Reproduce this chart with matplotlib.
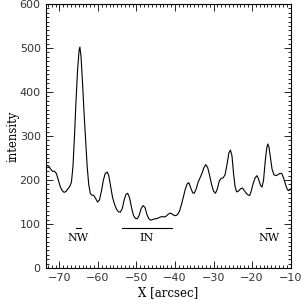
import matplotlib
matplotlib.use("Agg")
import matplotlib.pyplot as plt
from matplotlib.ticker import MultipleLocator

x_arcsec = [-73.6, -73.2, -72.8, -72.3, -71.8, -71.3, -70.8, -70.3, -69.8, -69.3,
            -68.8, -68.3, -67.8, -67.3, -66.9, -66.5, -66.1, -65.7, -65.3, -64.9,
            -64.7, -64.4, -64.0, -63.6, -63.2, -62.8, -62.4, -62.0, -61.6, -61.1,
            -60.6, -60.1, -59.6, -59.1, -58.6, -58.1, -57.6, -57.2, -56.7, -56.2,
            -55.7, -55.2, -54.7, -54.2, -53.7, -53.2, -52.7, -52.3, -51.8, -51.3,
            -50.8, -50.3, -49.8, -49.3, -48.8, -48.3, -47.8, -47.3, -46.8, -46.3,
            -45.8, -45.3, -44.8, -44.3, -43.8, -43.3, -42.8, -42.3, -41.8, -41.3,
            -40.8, -40.3, -39.8, -39.3, -38.8, -38.3, -37.8, -37.3, -36.8, -36.4,
            -35.9, -35.4, -35.0, -34.5, -34.0, -33.5, -33.0, -32.5, -32.0, -31.5,
            -31.0, -30.5, -30.0, -29.5, -29.0, -28.5, -28.0, -27.5, -27.0, -26.5,
            -26.0, -25.6, -25.2, -24.8, -24.4, -24.0, -23.5, -23.0, -22.5, -22.0,
            -21.5, -21.0, -20.6, -20.2, -19.7, -19.2, -18.7, -18.3, -17.8, -17.4,
            -17.0, -16.6, -16.2, -15.9, -15.6, -15.2, -14.8, -14.3, -13.8, -13.3,
            -12.8, -12.3, -11.8, -11.3, -10.8, -10.4, -10.0]
intensity = [228, 233, 232, 225, 220, 220, 215, 200, 185, 176,
             172, 174, 180, 186, 195, 230, 300, 380, 450, 495,
             502, 480, 420, 350, 290, 230, 190, 170, 166, 165,
             158, 150, 155, 175, 200, 215, 218, 210, 185, 160,
             145, 134, 128, 127, 135, 155, 168, 170, 160, 138,
             120, 113, 112, 120, 135, 142, 138, 122, 112, 109,
             110, 112, 112, 114, 116, 117, 116, 118, 122, 125,
             123, 120, 119, 122, 130, 145, 162, 180, 192, 194,
             182, 171, 170, 180, 195, 205, 215, 228, 235, 228,
             210, 190, 175, 170, 180, 198, 204, 205, 212, 235,
             262, 268, 255, 215, 185, 173, 175, 180, 182, 176,
             170, 166, 165, 175, 192, 205, 210, 202, 188, 184,
             200, 240, 272, 282, 275, 250, 225, 212, 210, 212,
             215, 215, 205, 190, 178, 176, 180]

region_labels = ["NW", "IN", "NW"]
region_x0 = [-65.8, -53.8, -16.4]
region_x1 = [-64.4, -40.8, -15.0]
region_line_y = 90
region_text_y = 68

fig = plt.figure(figsize=(3.02, 3.05), dpi=100)
ax = fig.add_axes([0.151, 0.121, 0.811, 0.866])
ax.plot(x_arcsec, intensity, color="black", lw=0.8)

for lab, a, b in zip(region_labels, region_x0, region_x1):
    ax.plot([a, b], [region_line_y, region_line_y], color="black", lw=0.8)
    ax.text((a + b) / 2, region_text_y, lab, ha="center", va="center",
            fontsize=8, family="DejaVu Serif")

ax.set_xlim(-73.6, -10)
ax.set_ylim(0, 600)
ax.xaxis.set_major_locator(MultipleLocator(10))
ax.xaxis.set_minor_locator(MultipleLocator(1))
ax.yaxis.set_major_locator(MultipleLocator(100))
ax.yaxis.set_minor_locator(MultipleLocator(10))
ax.tick_params(which="both", direction="in", top=True, right=True, labelsize=8,
               width=0.6, colors="black", labelcolor="#333333")
ax.tick_params(which="major", length=5)
ax.tick_params(which="minor", length=2.5)
for s in ax.spines.values():
    s.set_linewidth(0.8)
ax.set_xlabel("X [arcsec]", family="DejaVu Serif", fontsize=8.5, labelpad=2)
ax.set_ylabel("intensity", family="DejaVu Serif", fontsize=8.5, labelpad=0)
fig.savefig("out.png", dpi=100)
